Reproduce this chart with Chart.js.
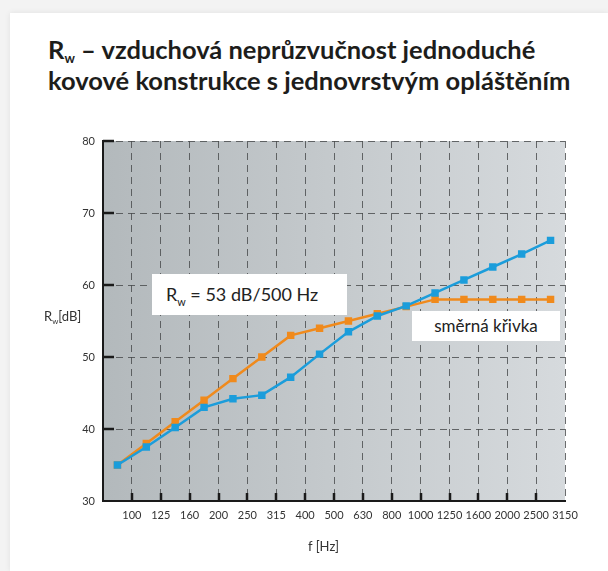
<!DOCTYPE html>
<html>
<head>
<meta charset="utf-8">
<script src="https://cdn.jsdelivr.net/npm/chart.js@4.4.1/dist/chart.umd.min.js"></script>
<style>
  html, body { margin:0; padding:0; width:608px; height:571px; overflow:hidden; background:#f3f3f3; }
  #card { position:absolute; left:10px; top:13px; width:598px; height:558px; background:#fff; box-shadow:0 0 6px rgba(0,0,0,0.08); }
  #title { position:absolute; left:48px; top:34px; font-family:Lato, sans-serif; font-weight:700; font-size:25.5px; line-height:31px; color:#1d1d1b; white-space:nowrap; }
  #title sub { font-size:13px; vertical-align:baseline; position:relative; top:4px; line-height:0; }
  #wrap { position:absolute; left:0; top:0; width:608px; height:571px; }
  .lbl { position:absolute; font-family:Lato, sans-serif; color:#333; white-space:nowrap; }
  .lbl sub { font-size:0.6em; vertical-align:baseline; position:relative; top:3px; line-height:0; }
  .box { position:absolute; background:#fff; font-family:Lato, sans-serif; color:#222; white-space:nowrap; line-height:1; }
  .box sub { font-size:0.6em; vertical-align:baseline; position:relative; top:5px; line-height:0; }
</style>
</head>
<body>
<div id="card"></div>
<div id="title">R<sub>w</sub> – vzduchová neprůzvučnost jednoduché<br>kovové konstrukce s jednovrstvým opláštěním</div>
<div id="wrap"><canvas id="c" width="608" height="571"></canvas></div>
<div class="lbl" style="left:44px; top:308px; font-size:13px;">R<sub>w</sub>[dB]</div>
<div class="lbl" style="left:308px; top:538px; font-size:13px;">f [Hz]</div>
<div class="box" style="left:152px; top:274px; width:195px; height:41px; font-size:18px; padding:11px 0 0 14px; box-sizing:border-box;">R<sub>w</sub> = 53 dB/500 Hz</div>
<div class="box" style="left:412px; top:311px; width:148px; height:30px; font-size:17px; padding-top:6px; box-sizing:border-box; text-align:center;">směrná křivka</div>
<script>
const frequencies = ['100','125','160','200','250','315','400','500','630','800','1000','1250','1600','2000','2500','3150'];
const measured = [35, 37.5, 40.2, 43.0, 44.2, 44.7, 47.2, 50.4, 53.5, 55.7, 57.1, 58.9, 60.7, 62.5, 64.3, 66.2];
const reference = [35, 38, 41, 44, 47, 50, 53, 54, 55, 56, 57, 58, 58, 58, 58, 58];
const yTicks = [30, 40, 50, 60, 70, 80];

const toPoints = arr => arr.map((v, i) => ({ x: i + 0.5, y: v }));

const bgPlugin = {
  id: 'bg',
  beforeDraw(chart) {
    const { ctx, chartArea: a } = chart;
    const g = ctx.createLinearGradient(a.left, 0, a.right, 0);
    g.addColorStop(0, '#b3b9bc');
    g.addColorStop(1, '#d6dadd');
    ctx.save();
    ctx.fillStyle = g;
    ctx.fillRect(a.left, a.top, a.right - a.left, a.bottom - a.top);
    ctx.restore();
  },
  beforeDatasetsDraw(chart) {
    const { ctx, chartArea: a, scales } = chart;
    ctx.save();
    ctx.strokeStyle = '#1a1a1a';
    ctx.lineWidth = 2.5;
    yTicks.forEach(v => {
      if (v === yTicks[0]) return;
      const y = Math.round(scales.y.getPixelForValue(v));
      ctx.beginPath(); ctx.moveTo(a.left, y); ctx.lineTo(a.left + 11, y); ctx.stroke();
    });
    for (let i = 1; i < frequencies.length; i++) {
      const x = Math.round(scales.x.getPixelForValue(i));
      ctx.beginPath(); ctx.moveTo(x, a.bottom); ctx.lineTo(x, a.bottom - 8); ctx.stroke();
    }
    ctx.restore();
  }
};

new Chart(document.getElementById('c'), {
  type: 'line',
  data: {
    datasets: [
      { label: 'Rw', data: toPoints(measured), borderColor: '#1b9ddb', backgroundColor: '#1b9ddb',
        borderWidth: 2.5, pointStyle: 'rect', pointRadius: 3.5, pointHoverRadius: 3.5, tension: 0 },
      { label: 'směrná křivka', data: toPoints(reference), borderColor: '#f08a1c', backgroundColor: '#f08a1c',
        borderWidth: 2.5, pointStyle: 'rect', pointRadius: 3.5, pointHoverRadius: 3.5, tension: 0 }
    ]
  },
  options: {
    responsive: false,
    animation: false,
    events: [],
    layout: { padding: { top: 141, right: 43, left: 0, bottom: 0 } },
    plugins: { legend: { display: false }, tooltip: { enabled: false }, title: { display: false } },
    scales: {
      x: {
        type: 'linear', min: 0, max: frequencies.length,
        afterFit: s => { s.height = 70; },
        ticks: {
          stepSize: 1, autoSkip: false, maxRotation: 0, padding: 8,
          color: '#333', font: { family: 'Lato', size: 11 },
          callback: v => (v >= 1 && v <= frequencies.length) ? frequencies[v - 1] : ''
        },
        grid: { color: 'rgba(70,72,74,0.8)', lineWidth: 1, drawTicks: false },
        border: { display: true, color: '#1a1a1a', width: 2, dash: [7, 5] }
      },
      y: {
        min: 30, max: 80,
        afterFit: s => { s.width = 103; },
        ticks: { stepSize: 10, padding: 8, color: '#333', font: { family: 'Lato', size: 11 } },
        grid: { color: 'rgba(70,72,74,0.8)', lineWidth: 1, drawTicks: false },
        border: { display: true, color: '#1a1a1a', width: 2, dash: [7, 5] }
      }
    }
  },
  plugins: [bgPlugin]
});
</script>
</body>
</html>
